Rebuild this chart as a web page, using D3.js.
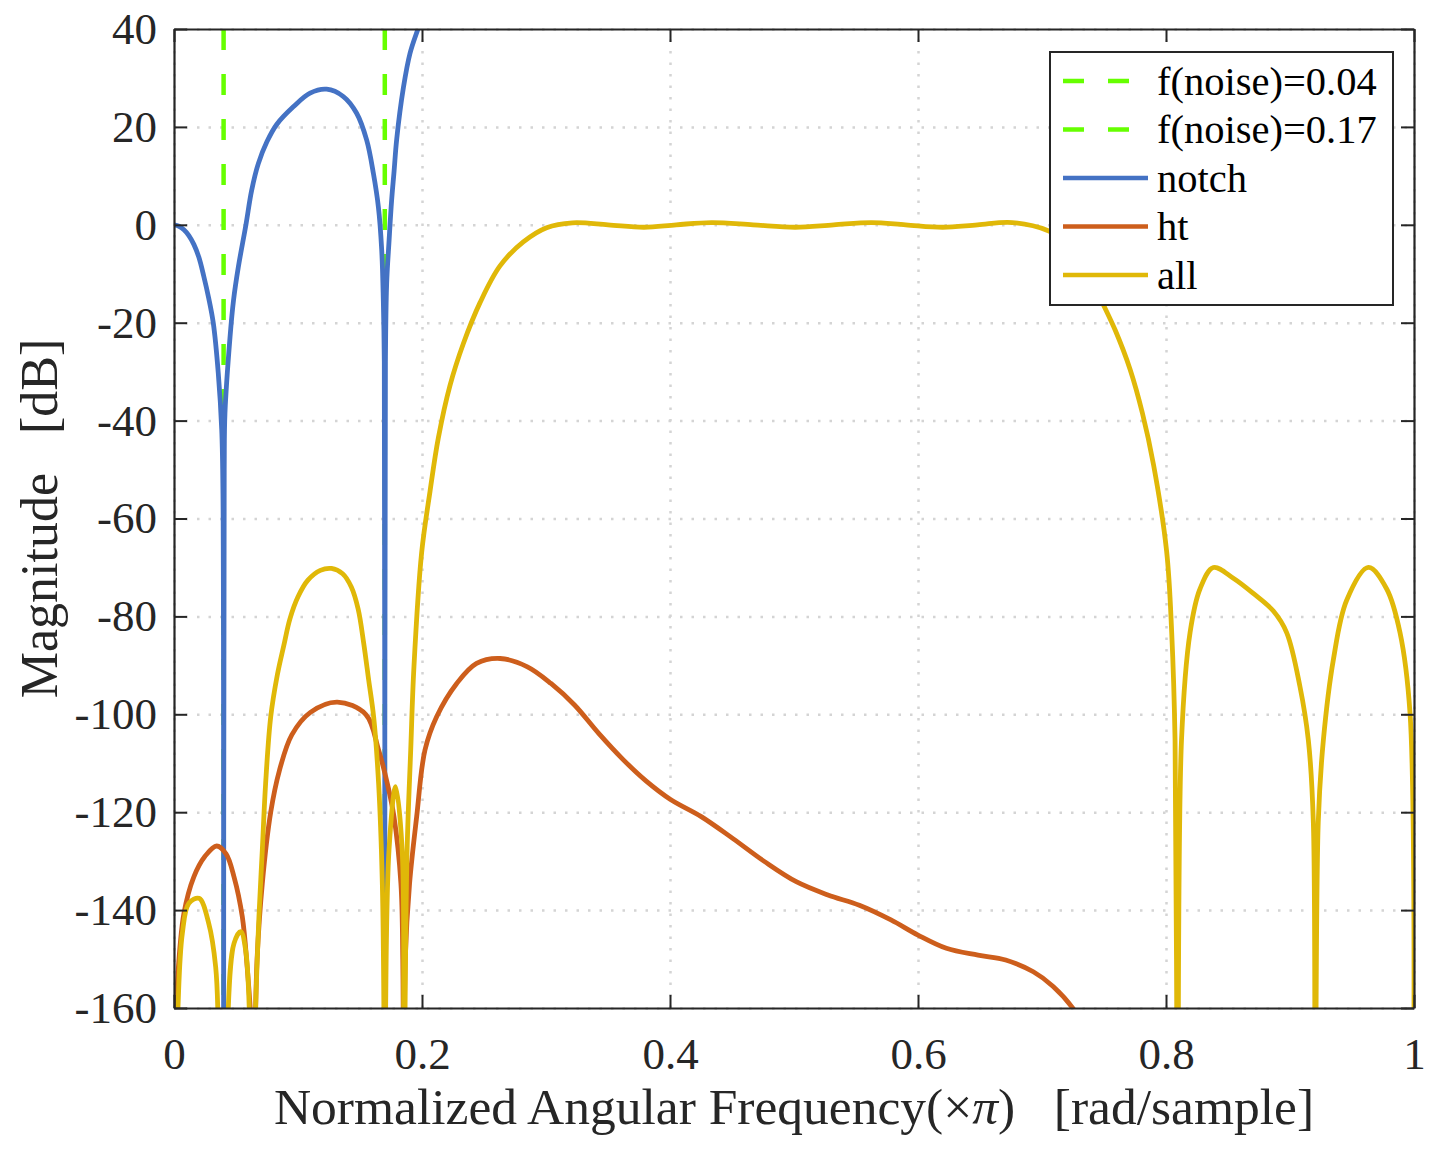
<!DOCTYPE html>
<html>
<head>
<meta charset="utf-8">
<script src="https://cdn.jsdelivr.net/npm/d3@7"></script>
<style>
  body { margin: 0; background: #fff; }
  svg text { font-family: "Liberation Serif", "Times New Roman", serif; fill: #262626; }
</style>
</head>
<body>
<div id="chart"></div>
<script>
// values (f in x pi rad/sample, magnitude in dB)
var noiseFreqs = [0.04, 0.17];
var noiseLabels = ["f(noise)=0.04", "f(noise)=0.17"];

var notchFreq = [0, 0.004, 0.008, 0.012, 0.016, 0.02, 0.024, 0.028, 0.0317, 0.0357, 0.0385, 0.0395, 0.04,
  0.0405, 0.0411, 0.0452, 0.048, 0.0519, 0.058, 0.0626, 0.068, 0.075, 0.0828, 0.0962, 0.1097, 0.1231,
  0.1366, 0.1473, 0.1554, 0.1608, 0.1648, 0.1675, 0.1688, 0.1696, 0.17, 0.1705, 0.1715, 0.1735, 0.1755,
  0.1775, 0.1796, 0.185, 0.1903, 0.197, 0.2];
var notchMag = [0, -0.3, -1.0, -2.2, -4, -6.6, -10.5, -15, -20.1, -30.3, -41.9, -55, -200,
  -50, -38.5, -22.9, -15.4, -8.6, 0, 7, 12.5, 17, 20.5, 24.1, 26.9, 27.7,
  26.2, 22.8, 17.3, 10.5, 3.7, -5.1, -15.4, -28, -200, -28, -12, -3, 5,
  11, 17.5, 28, 35, 40.2, 42.5];

var htFreq = [0, 0.0027, 0.008, 0.016, 0.025, 0.0344, 0.042, 0.0484, 0.0551, 0.059, 0.0625, 0.064, 0.0655,
  0.067, 0.0712, 0.078, 0.085, 0.095, 0.11, 0.1317, 0.1546, 0.165, 0.172, 0.1774, 0.183, 0.1845, 0.1855,
  0.1865, 0.19, 0.1957, 0.2024, 0.2118, 0.228, 0.244, 0.263, 0.285, 0.304, 0.323, 0.3425, 0.3616, 0.3806,
  0.4004, 0.4252, 0.4508, 0.4763, 0.5018, 0.5273, 0.5527, 0.5782, 0.6, 0.6229, 0.6484, 0.6707, 0.693,
  0.709, 0.725, 0.74];
var htMag = [-175, -155, -140.7, -133.2, -129, -126.9, -128.5, -133.2, -141.4, -151.6, -165, -200, -165,
  -150, -134.6, -120, -111.5, -104.2, -99.6, -97.5, -100, -107.3, -114.1, -120.9, -134.6, -150, -200,
  -150, -134.5, -120.9, -107.3, -100.5, -93.7, -89.6, -88.6, -90.3, -93.7, -98.1, -103.9, -109.1, -113.6,
  -117.4, -120.9, -125.4, -130.1, -134.2, -136.9, -139.0, -142.0, -145.1, -147.8, -149.2, -150.2, -152.6,
  -155.6, -160.1, -167];

var allFreq = [0, 0.0032, 0.0067, 0.012, 0.0202, 0.028, 0.0336, 0.0358, 0.0395, 0.043, 0.0484, 0.0538,
  0.0578, 0.0613, 0.0635, 0.0653, 0.0685, 0.0712, 0.0739, 0.078, 0.0833, 0.0885, 0.0935, 0.1, 0.108,
  0.118, 0.127, 0.136, 0.143, 0.1485, 0.153, 0.157, 0.161, 0.165, 0.168, 0.1694, 0.17, 0.1705, 0.1734,
  0.1787, 0.184, 0.1852, 0.1856, 0.1862, 0.188, 0.1909, 0.1935, 0.1997, 0.2065, 0.2132, 0.2226, 0.2333,
  0.2468, 0.2629, 0.2817, 0.3005, 0.3214, 0.35, 0.379, 0.405, 0.4335, 0.467, 0.501, 0.532, 0.5624, 0.59,
  0.62, 0.648, 0.676, 0.705, 0.72, 0.735, 0.747, 0.759, 0.771, 0.781, 0.79, 0.8005, 0.8046, 0.8073,
  0.8094, 0.8125, 0.8194, 0.8274, 0.8382, 0.8543, 0.8704, 0.8866, 0.8973, 0.908, 0.9148, 0.9188, 0.9202,
  0.9228, 0.9269, 0.935, 0.9457, 0.9632, 0.978, 0.9887, 0.9968, 1.0];
var allMag = [-200, -160, -144.8, -138.6, -137.6, -142.7, -151.6, -165, -220, -165, -146.8, -144.4,
  -148.2, -165, -200, -165, -141.4, -127.8, -114.1, -100.5, -92, -86, -80.5, -76, -72.6,
  -70.6, -70.2, -71.3, -74, -78.5, -85.5, -93, -100.5, -114.1, -134.5, -165, -220, -165, -127.7,
  -114.8, -127.7, -165, -200, -165, -127.7, -107.3, -90.3, -67, -54.4, -43.5, -32.8, -24.3,
  -15.9, -8.4, -3.5, -0.6, 0.4, 0.0, -0.5, 0.0, 0.45, 0.0, -0.5, 0.0, 0.45, 0.0,
  -0.5, 0.0, 0.45, -1.2, -3.5, -8.5, -15, -21.5, -29.5, -38.5, -49.1, -66.7, -83.3, -105.3,
  -200, -105.3, -83.3, -74.4, -70.0, -72.2, -75.3, -78.9, -83.3, -94.3, -105.3, -121.9, -200,
  -121.9, -105.3, -88.8, -76.7, -70.0, -74.4, -83.3, -99.8, -160];

var xTicks = [0, 0.2, 0.4, 0.6, 0.8, 1];
var yTicks = [40, 20, 0, -20, -40, -60, -80, -100, -120, -140, -160];

var seriesNames = ["notch", "ht", "all"];
var seriesColors = ["#4472C4", "#CD5E1C", "#E0B808"];
var noiseColor = "#66FF00";

function drawGraph() {
  var width = 1440;
  var height = 1150;
  var margin = { left: 174, top: 29, right: 26, bottom: 142 };
  var w = width - margin.left - margin.right;
  var h = height - margin.top - margin.bottom;

  var canvas = d3.select("#chart")
    .append("svg")
    .attr("width", width)
    .attr("height", height);

  var group = canvas.append("g")
    .attr("transform", "translate(" + margin.left + "," + margin.top + ")");

  var x = d3.scaleLinear().domain([0, 1]).range([0, w]);
  var y = d3.scaleLinear().domain([-160, 40]).range([h, 0]);

  group.append("clipPath")
    .attr("id", "plotClip")
    .append("rect")
    .attr("width", w)
    .attr("height", h);

  // dotted grid
  group.append("g")
    .attr("transform", "translate(0," + h + ")")
    .call(d3.axisBottom(x).tickValues(xTicks).tickSize(-h).tickFormat(""))
    .call(function (g) { g.select(".domain").remove(); })
    .selectAll("line")
    .attr("stroke", "#d4d4d4")
    .attr("stroke-width", 2.5)
    .attr("stroke-dasharray", "2.5,9");

  group.append("g")
    .call(d3.axisLeft(y).tickValues(yTicks).tickSize(-w).tickFormat(""))
    .call(function (g) { g.select(".domain").remove(); })
    .selectAll("line")
    .attr("stroke", "#d4d4d4")
    .attr("stroke-width", 2.5)
    .attr("stroke-dasharray", "2.5,9");

  var plot = group.append("g").attr("clip-path", "url(#plotClip)");

  // noise frequency markers
  plot.selectAll(".noise")
    .data(noiseFreqs)
    .enter()
    .append("line")
    .attr("class", "noise")
    .attr("x1", function (d) { return x(d); })
    .attr("x2", function (d) { return x(d); })
    .attr("y1", y(40))
    .attr("y2", y(-160))
    .attr("stroke", noiseColor)
    .attr("stroke-width", 4.5)
    .attr("stroke-dasharray", "21,24");

  var line = d3.line()
    .x(function (d) { return x(d[0]); })
    .y(function (d) { return y(d[1]); })
    .curve(d3.curveCatmullRom.alpha(0.5));

  var seriesData = [
    d3.zip(notchFreq, notchMag),
    d3.zip(htFreq, htMag),
    d3.zip(allFreq, allMag)
  ];

  plot.selectAll(".series")
    .data(seriesData)
    .enter()
    .append("path")
    .attr("class", "series")
    .attr("d", line)
    .attr("fill", "none")
    .attr("stroke", function (d, i) { return seriesColors[i]; })
    .attr("stroke-width", 4.8)
    .attr("stroke-linejoin", "round");

  // axes box with inward ticks
  var axisColor = "#262626";
  var fmt = function (d) { return String(d); };
  var xAxis = d3.axisBottom(x).tickValues(xTicks).tickSizeInner(-13).tickSizeOuter(0).tickPadding(29)
    .tickFormat(fmt);
  var yAxis = d3.axisLeft(y).tickValues(yTicks).tickSizeInner(-13).tickSizeOuter(0).tickPadding(17)
    .tickFormat(fmt);

  var gx = group.append("g")
    .attr("transform", "translate(0," + h + ")")
    .call(xAxis);
  var gy = group.append("g").call(yAxis);
  var gt = group.append("g")
    .call(d3.axisTop(x).tickValues(xTicks).tickSizeInner(-13).tickSizeOuter(0).tickFormat(""));
  var gr = group.append("g")
    .attr("transform", "translate(" + w + ",0)")
    .call(d3.axisRight(y).tickValues(yTicks).tickSizeInner(-13).tickSizeOuter(0).tickFormat(""));

  [gx, gy, gt, gr].forEach(function (g) {
    g.select(".domain").attr("stroke", axisColor).attr("stroke-width", 2.2);
    g.selectAll(".tick line").attr("stroke", axisColor).attr("stroke-width", 2);
    g.selectAll(".tick text")
      .attr("font-family", "Liberation Serif, Times New Roman, serif")
      .attr("font-size", 45)
      .attr("fill", axisColor);
  });

  // axis labels
  var xLabel = canvas.append("text")
    .attr("x", margin.left + w / 2)
    .attr("y", 1124)
    .attr("text-anchor", "middle")
    .attr("font-size", 51.5)
    .style("white-space", "pre");
  xLabel.append("tspan").text("Normalized Angular Frequency(\u00d7");
  xLabel.append("tspan").attr("font-style", "italic").text("\u03c0");
  xLabel.append("tspan").text(")   [rad/sample]");

  canvas.append("text")
    .attr("transform", "rotate(-90)")
    .attr("x", -(margin.top + h / 2))
    .attr("y", 57)
    .attr("text-anchor", "middle")
    .attr("font-size", 52)
    .style("white-space", "pre")
    .text("Magnitude   [dB]");

  // legend
  var legend = canvas.append("g");
  legend.append("rect")
    .attr("x", 1050)
    .attr("y", 52)
    .attr("width", 343)
    .attr("height", 253)
    .attr("fill", "#fff")
    .attr("stroke", axisColor)
    .attr("stroke-width", 2);

  var legendItems = [
    { label: noiseLabels[0], color: noiseColor, dash: "21,24" },
    { label: noiseLabels[1], color: noiseColor, dash: "21,24" },
    { label: seriesNames[0], color: seriesColors[0], dash: null },
    { label: seriesNames[1], color: seriesColors[1], dash: null },
    { label: seriesNames[2], color: seriesColors[2], dash: null }
  ];

  var rows = legend.selectAll(".row")
    .data(legendItems)
    .enter()
    .append("g")
    .attr("class", "row")
    .attr("transform", function (d, i) { return "translate(0," + (81 + i * 48.5) + ")"; });

  rows.append("line")
    .attr("x1", 1063)
    .attr("x2", 1148)
    .attr("stroke", function (d) { return d.color; })
    .attr("stroke-width", 4.5)
    .attr("stroke-dasharray", function (d) { return d.dash; });

  rows.append("text")
    .attr("x", 1157)
    .attr("dy", "0.34em")
    .attr("font-size", 40.5)
    .style("fill", "#000")
    .text(function (d) { return d.label; });
}

drawGraph();
</script>
</body>
</html>
